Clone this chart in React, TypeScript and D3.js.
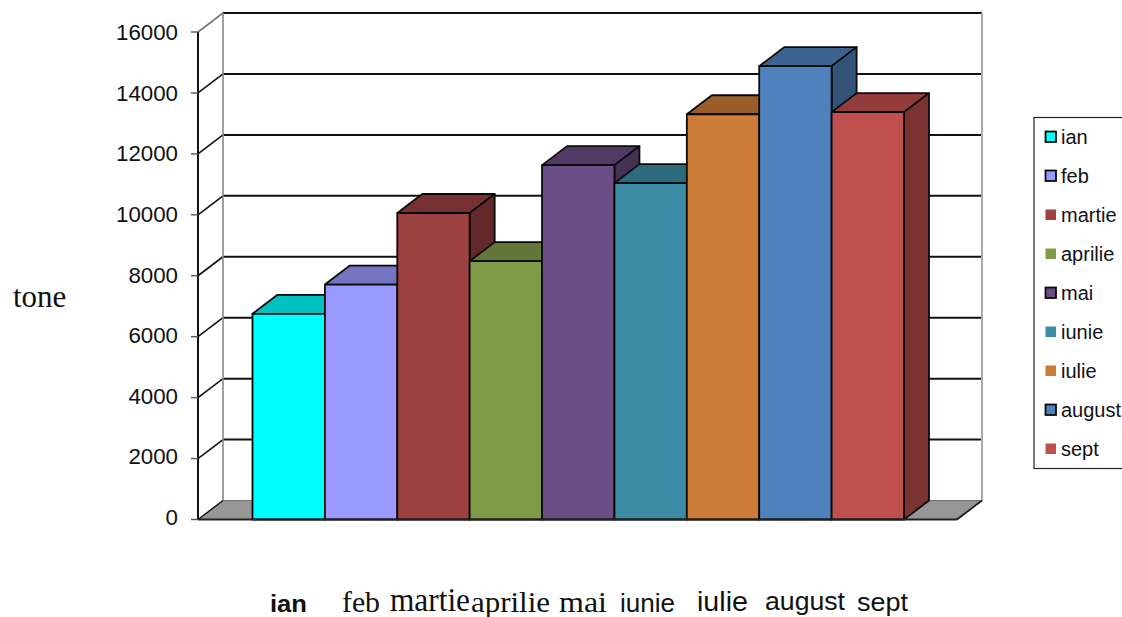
import React from "react";
import * as d3 from "d3";

const months = ["ian", "feb", "martie", "aprilie", "mai", "iunie", "iulie", "august", "sept"];
const values = [6750, 7710, 10060, 8480, 11630, 11040, 13300, 14880, 13370];
const colors = ["#00FFFF", "#9999FF", "#9C4040", "#809B48", "#6B4E85", "#3D8CA6", "#CC7C38", "#4F81BD", "#C0504D"];
const legendOutlined = ["ian", "feb", "mai", "august"];
const yTicks = [0, 2000, 4000, 6000, 8000, 10000, 12000, 14000, 16000];

const SANS = "'Liberation Sans', Arial, sans-serif";
const SERIF = "'Liberation Serif', 'Times New Roman', serif";

// category labels under the plot: text, left edge, width, font
const axisLabels = [
  { t: "ian", x: 270, w: 37, f: SANS, s: 24, b: 700, y: 612 },
  { t: "feb", x: 342, w: 38, f: SERIF, s: 29, b: 400, y: 612 },
  { t: "martie", x: 390, w: 80, f: SERIF, s: 33, b: 400, y: 611 },
  { t: "aprilie", x: 471, w: 79, f: SERIF, s: 30, b: 400, y: 612 },
  { t: "mai", x: 559, w: 48, f: SERIF, s: 30, b: 400, y: 612 },
  { t: "iunie", x: 620, w: 55, f: SANS, s: 25, b: 400, y: 612 },
  { t: "iulie", x: 697, w: 51, f: SANS, s: 27, b: 400, y: 611 },
  { t: "august", x: 765, w: 80, f: SANS, s: 25, b: 400, y: 610 },
  { t: "sept", x: 857, w: 51, f: SANS, s: 25, b: 400, y: 611 },
];

const DX = 25;
const DY = -19;
const shade = (c: string, k: number) => {
  const r = d3.rgb(c);
  return d3.rgb(r.r * k, r.g * k, r.b * k).formatHex();
};

export default function App() {
  const y = d3.scaleLinear().domain([0, 16000]).range([519.5, 32]);
  const labelY = d3.scaleLinear().domain([0, 16000]).range([525, 40]);
  const x = d3.scaleBand().domain(months).range([252.5, 904]).padding(0);
  const xL = 198;
  const xR = 957;
  const legendY = d3.scalePoint().domain(months).range([137, 449]);
  const poly = (p: number[][]) => p.map((q) => q.join(",")).join(" ");

  return (
    <svg width={1122} height={617} style={{ position: "absolute", left: 0, top: 0, background: "#fff" }}>
      {/* floor */}
      <polygon
        points={poly([[xL, y(0)], [xR, y(0)], [xR + DX, y(0) + DY], [xL + DX, y(0) + DY]])}
        fill="#969696"
      />
      <line x1={xL + DX} x2={xR + DX} y1={y(0) + DY} y2={y(0) + DY} stroke="#777" strokeWidth={1} />
      {/* walls */}
      {yTicks.slice(1).map((t) => (
        <g key={t}>
          <line x1={xL + DX} x2={xR + DX} y1={y(t) + DY} y2={y(t) + DY} stroke="#111" strokeWidth={2} />
          <line x1={xL} x2={xL + DX} y1={y(t)} y2={y(t) + DY} stroke={t === 16000 ? "#777" : "#111"} strokeWidth={1.6} />
        </g>
      ))}
      <line x1={xL + DX} x2={xL + DX} y1={y(16000) + DY} y2={y(0) + DY} stroke="#888" strokeWidth={1.6} />
      <line x1={xR + DX} x2={xR + DX} y1={y(16000) + DY} y2={y(0) + DY} stroke="#aaa" strokeWidth={2} />
      <line x1={xL} x2={xL + DX} y1={y(0)} y2={y(0) + DY} stroke="#111" strokeWidth={1.4} />
      <line x1={xR} x2={xR + DX} y1={y(0)} y2={y(0) + DY} stroke="#111" strokeWidth={1.6} />
      {/* bars */}
      {months.map((m, i) => {
        const x0 = x(m) as number;
        const x1 = x0 + x.bandwidth();
        const yv = y(values[i]);
        const y0 = y(0);
        return (
          <g key={m} stroke="#0a0a0a" strokeWidth={1.8} strokeLinejoin="round">
            <polygon points={poly([[x0, yv], [x1, yv], [x1 + DX, yv + DY], [x0 + DX, yv + DY]])} fill={shade(colors[i], 0.76)} />
            <polygon points={poly([[x1, yv], [x1 + DX, yv + DY], [x1 + DX, y0 + DY], [x1, y0]])} fill={shade(colors[i], 0.64)} />
            <rect x={x0} y={yv} width={x.bandwidth()} height={y0 - yv} fill={colors[i]} />
          </g>
        );
      })}
      {/* axis */}
      <line x1={xL} x2={xL} y1={y(16000)} y2={y(0)} stroke="#111" strokeWidth={2} />
      <line x1={xL} x2={xR} y1={y(0)} y2={y(0)} stroke="#222" strokeWidth={2} />
      {yTicks.map((t) => (
        <g key={t}>
          <line x1={xL - 7} x2={xL} y1={y(t)} y2={y(t)} stroke="#555" strokeWidth={1.4} />
          <text x={178} y={labelY(t)} textAnchor="end" fontFamily={SANS} fontSize={22.3} fill="#111">{t}</text>
        </g>
      ))}
      <text x={13} y={307} fontFamily={SERIF} fontSize={31} fill="#111">tone</text>
      {axisLabels.map((l) => (
        <text key={l.t} x={l.x} y={l.y} fontFamily={l.f} fontSize={l.s} fontWeight={l.b} fill="#111"
          textLength={l.w} lengthAdjust="spacingAndGlyphs">{l.t}</text>
      ))}
      {/* legend */}
      <rect x={1034} y={117.5} width={100} height={351} fill="#fff" stroke="#222" strokeWidth={1.2} />
      {months.map((m, i) => {
        const ly = legendY(m) as number;
        const outlined = legendOutlined.includes(m);
        return (
          <g key={m}>
            <rect x={1045.5} y={ly - 5.5} width={10.5} height={10.5} fill={colors[i]}
              stroke={outlined ? "#0a0a0a" : "none"} strokeWidth={outlined ? 1.8 : 0} />
            <text x={1061} y={ly + 7} fontFamily={SANS} fontSize={20} fill="#111">{m}</text>
          </g>
        );
      })}
    </svg>
  );
}
